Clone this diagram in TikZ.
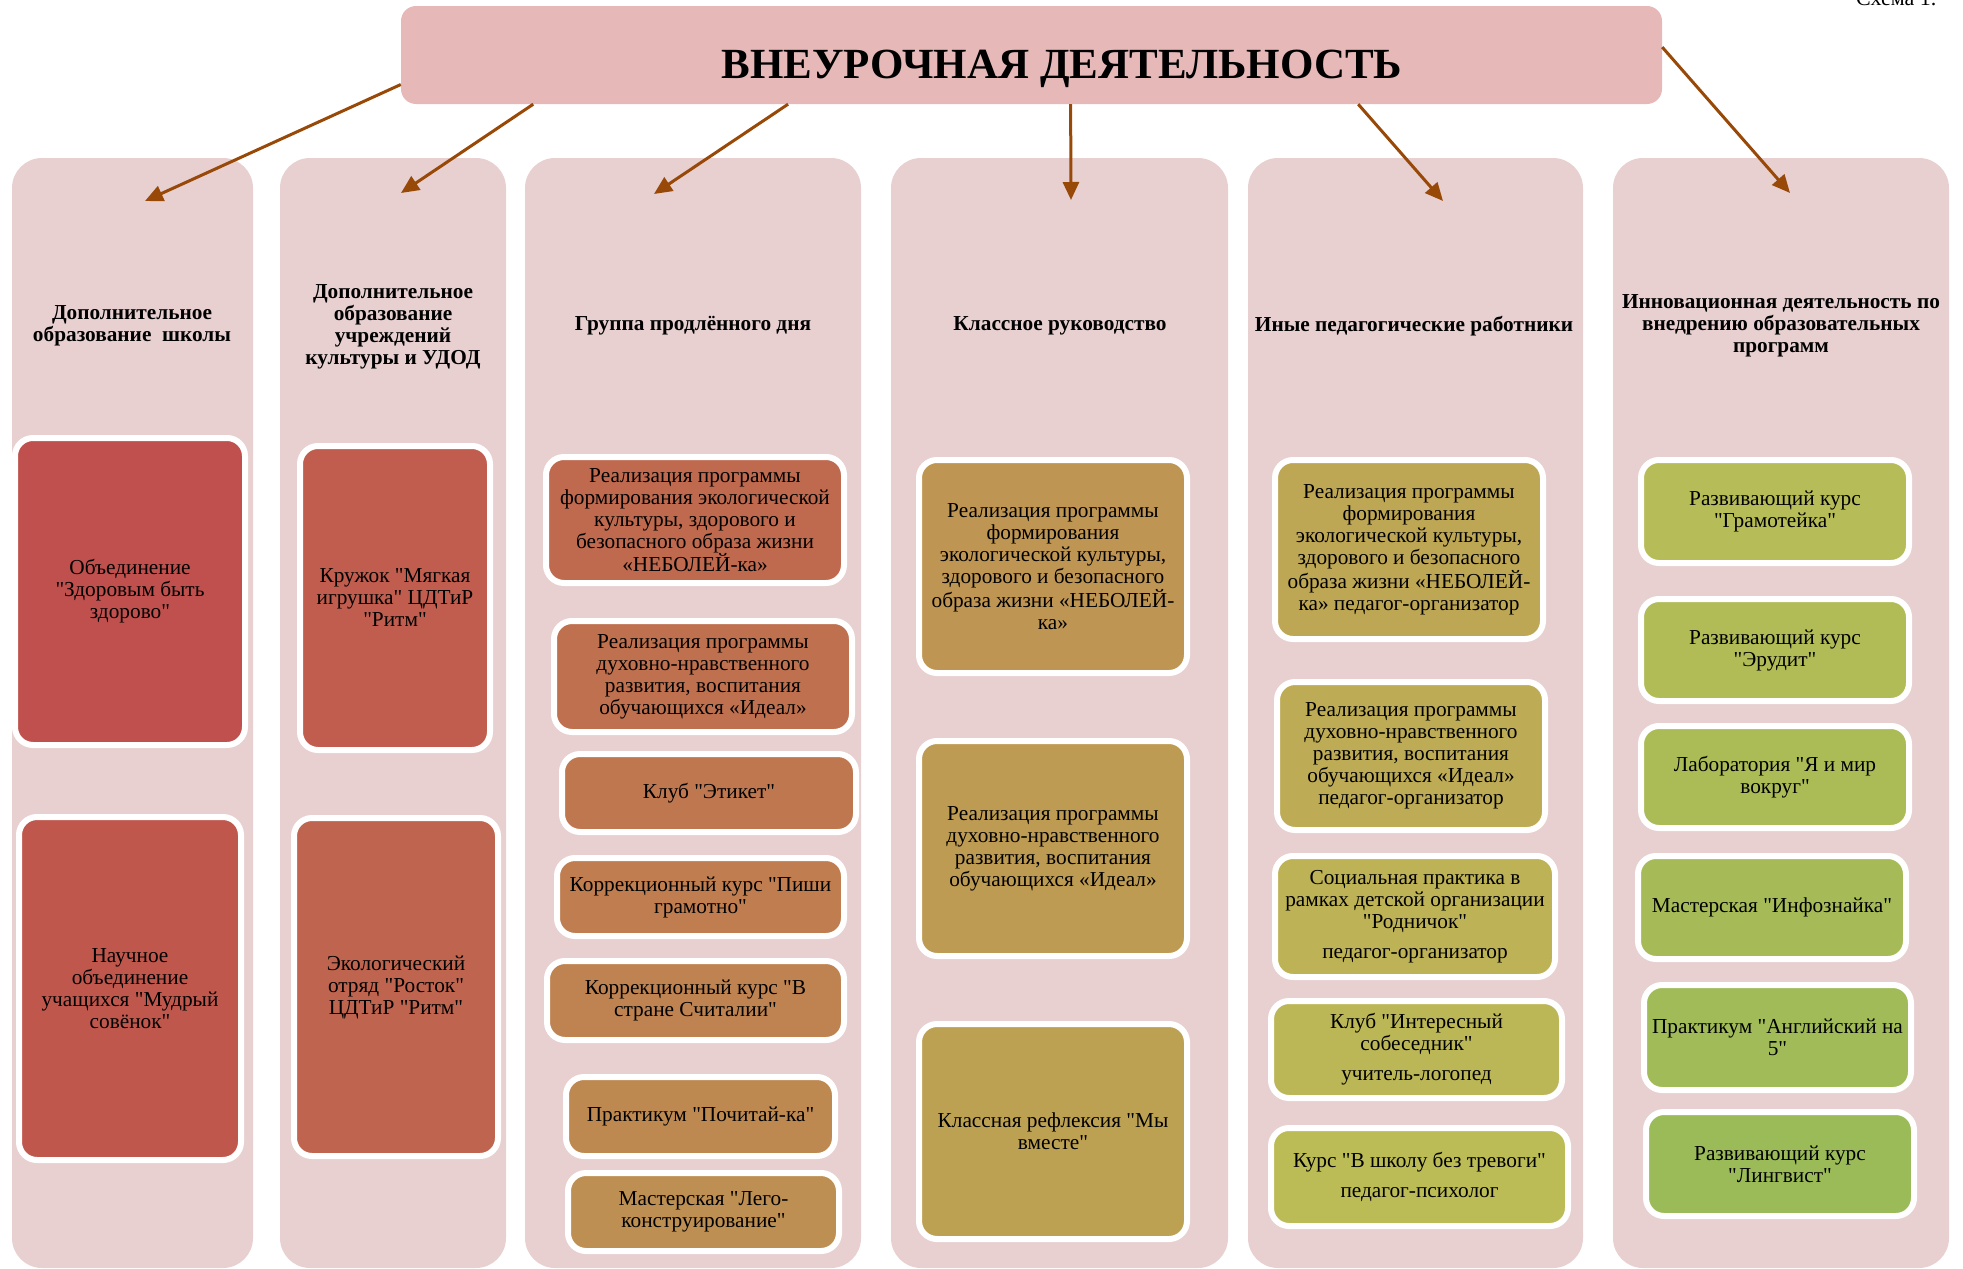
\documentclass[tikz,border=0pt]{standalone}
\usepackage{fontspec}
\setmainfont{Liberation Serif}[Ligatures=TeXOff]
\usetikzlibrary{arrows.meta,calc}

\definecolor{topfill}{HTML}{E6B9B8}
\definecolor{colfill}{HTML}{E8D0D1}
\definecolor{arrowcol}{HTML}{984807}
% box tones, red to green
\foreach \n in {0,...,24}{%
	\pgfmathsetmacro\tonehue{1.6+78*\n/24}%
	\pgfmathsetmacro\tonesat{0.600-0.076*\n/24}%
	\pgfmathsetmacro\tonebri{0.753-0.020*\n/24}%
	\edef\tonedef{\noexpand\definecolor{tonetmp}{Hsb}{\tonehue,\tonesat,\tonebri}%
		\noexpand\xglobal\noexpand\colorlet{tone\n}[rgb]{tonetmp}}%
	\tonedef
}

\tikzset{
	column/.style={fill=colfill,rounded corners=30pt,inner sep=0pt},
	topbox/.style={fill=topfill,rounded corners=15pt,inner sep=0pt},
	head/.style={align=center,font=\bfseries\fontsize{21.3}{22}\selectfont},
	item/.style={draw=white,line width=6pt,rounded corners=18pt,fill=tone#1,
		align=center,inner sep=2pt,font=\fontsize{21.3}{22}\selectfont},
	arr/.style={draw=arrowcol,line width=3pt,-{Triangle[length=18pt,width=16pt]}}
}

\begin{document}
\begin{tikzpicture}[x=1pt,y=-1pt]
	\useasboundingbox (0,0) rectangle (1963,1269);
	\node[anchor=base east,font=\fontsize{22}{24}\selectfont] at (1940,5) (scheme) {Схема 1.};
	% columns
	\node[column,minimum width=241,minimum height=1110] at (132.5,713) (col_school) {};
	\node[column,minimum width=226,minimum height=1110] at (393,713) (col_culture) {};
	\node[column,minimum width=336,minimum height=1110] at (693,713) (col_group) {};
	\node[column,minimum width=337,minimum height=1110] at (1059.5,713) (col_class) {};
	\node[column,minimum width=335,minimum height=1110] at (1415.5,713) (col_staff) {};
	\node[column,minimum width=336,minimum height=1110] at (1781,713) (col_innov) {};
	% top box
	\node[topbox,minimum width=1261,minimum height=98] at (1031.5,55) (top_box) {};
	\node[anchor=base,font=\bfseries\fontsize{43}{48}\selectfont] at (1062,78) (title) {ВНЕУРОЧНАЯ ДЕЯТЕЛЬНОСТЬ};
	% arrows
	\coordinate (tip_school) at (145,201);
	\coordinate (tip_culture) at (401,193);
	\coordinate (tip_group) at (654,194);
	\coordinate (tip_class) at (1071,200);
	\coordinate (tip_staff) at (1443,201);
	\coordinate (tip_innov) at (1790,193);
	\draw[arr] ($(top_box.north west)!0.8!(top_box.south west)$)--(tip_school);
	\draw[arr] ($(top_box.south west)!0.105!(top_box.south east)$)--(tip_culture);
	\draw[arr] ($(top_box.south west)!0.307!(top_box.south east)$)--(tip_group);
	\draw[arr] ($(top_box.south west)!0.531!(top_box.south east)$)--(tip_class);
	\draw[arr] ($(top_box.south west)!0.759!(top_box.south east)$)--(tip_staff);
	\draw[arr] ($(top_box.north east)!0.42!(top_box.south east)$)--(tip_innov);
	% headings
	\node[head] at (132,326) (head_school) {Дополнительное\\образование~ школы};
	\node[head] at (393,326.5) (head_culture) {Дополнительное\\образование\\учреждений\\культуры и УДОД};
	\node[head] at (693,326) (head_group) {Группа продлённого дня};
	\node[head] at (1060,326) (head_class) {Классное руководство};
	\node[head] at (1414,326) (head_staff) {Иные педагогические работники};
	\node[head] at (1781,325.5) (head_innov) {Инновационная деятельность по\\внедрению образовательных\\программ};
	% school
	\node[item=0,minimum width=230,minimum height=307] at (130,591.5) (school_a) {Объединение\\"Здоровым быть\\здорово"};
	\node[item=1,minimum width=222,minimum height=343] at (130,988.5) (school_b) {Научное\\объединение\\учащихся "Мудрый\\совёнок"};
	% culture
	\node[item=2,minimum width=190,minimum height=304] at (395,598) (culture_a) {Кружок "Мягкая\\игрушка" ЦДТиР\\"Ритм"};
	\node[item=3,minimum width=204,minimum height=338] at (396,987) (culture_b) {Экологический\\отряд "Росток"\\ЦДТиР "Ритм"};
	% group
	\node[item=4,minimum width=298,minimum height=126] at (695,520) (group_a) {Реализация программы\\формирования экологической\\культуры, здорового и\\безопасного образа жизни\\«НЕБОЛЕЙ-ка»};
	\node[item=5,minimum width=298,minimum height=111] at (703,676.5) (group_b) {Реализация программы\\духовно-нравственного\\развития, воспитания\\обучающихся «Идеал»};
	\node[item=6,minimum width=294,minimum height=78] at (709,793) (group_c) {Клуб "Этикет"};
	\node[item=7,minimum width=287,minimum height=78] at (700.5,897) (group_d) {Коррекционный курс "Пиши\\грамотно"};
	\node[item=8,minimum width=297,minimum height=79] at (695.5,1000.5) (group_e) {Коррекционный курс "В\\стране Считалии"};
	\node[item=9,minimum width=269,minimum height=79] at (700.5,1116.5) (group_f) {Практикум "Почитай-ка"};
	\node[item=10,minimum width=271,minimum height=78] at (703.5,1212) (group_g) {Мастерская "Лего-\\конструирование"};
	% class
	\node[item=11,minimum width=268,minimum height=213] at (1053,566.5) (class_a) {Реализация программы\\формирования\\экологической культуры,\\здорового и безопасного\\образа жизни «НЕБОЛЕЙ-\\ка»};
	\node[item=12,minimum width=268,minimum height=215] at (1053,848.5) (class_b) {Реализация программы\\духовно-нравственного\\развития, воспитания\\обучающихся «Идеал»};
	\node[item=13,minimum width=268,minimum height=215] at (1053,1131.5) (class_c) {Классная рефлексия "Мы\\вместе"};
	% staff
	\node[item=14,minimum width=268,minimum height=179] at (1409,549.5) (staff_a) {Реализация программы\\формирования\\экологической культуры,\\здорового и безопасного\\образа жизни «НЕБОЛЕЙ-\\ка» педагог-организатор};
	\node[item=15,minimum width=268,minimum height=148] at (1411,756) (staff_b) {Реализация программы\\духовно-нравственного\\развития, воспитания\\обучающихся «Идеал»\\педагог-организатор};
	\node[item=16,minimum width=280,minimum height=121] at (1415,916.5) (staff_c) {Социальная практика в\\рамках детской организации\\"Родничок"\\[8pt]педагог-организатор};
	\node[item=17,minimum width=291,minimum height=97] at (1416.5,1049.5) (staff_d) {Клуб "Интересный\\собеседник"\\[8pt]учитель-логопед};
	\node[item=18,minimum width=297,minimum height=98] at (1419.5,1177) (staff_e) {Курс "В школу без тревоги"\\[8pt]педагог-психолог};
	% innovation
	\node[item=19,minimum width=268,minimum height=103] at (1775,511.5) (innov_a) {Развивающий курс\\"Грамотейка"};
	\node[item=20,minimum width=268,minimum height=102] at (1775,650) (innov_b) {Развивающий курс\\"Эрудит"};
	\node[item=21,minimum width=268,minimum height=102] at (1775,777) (innov_c) {Лаборатория "Я и мир\\вокруг"};
	\node[item=22,minimum width=268,minimum height=103] at (1772,907.5) (innov_d) {Мастерская "Инфознайка"};
	\node[item=23,minimum width=267,minimum height=105] at (1777.5,1037.5) (innov_e) {Практикум "Английский на\\5"};
	\node[item=24,minimum width=268,minimum height=104] at (1780,1164) (innov_f) {Развивающий курс\\"Лингвист"};
\end{tikzpicture}
\end{document}
